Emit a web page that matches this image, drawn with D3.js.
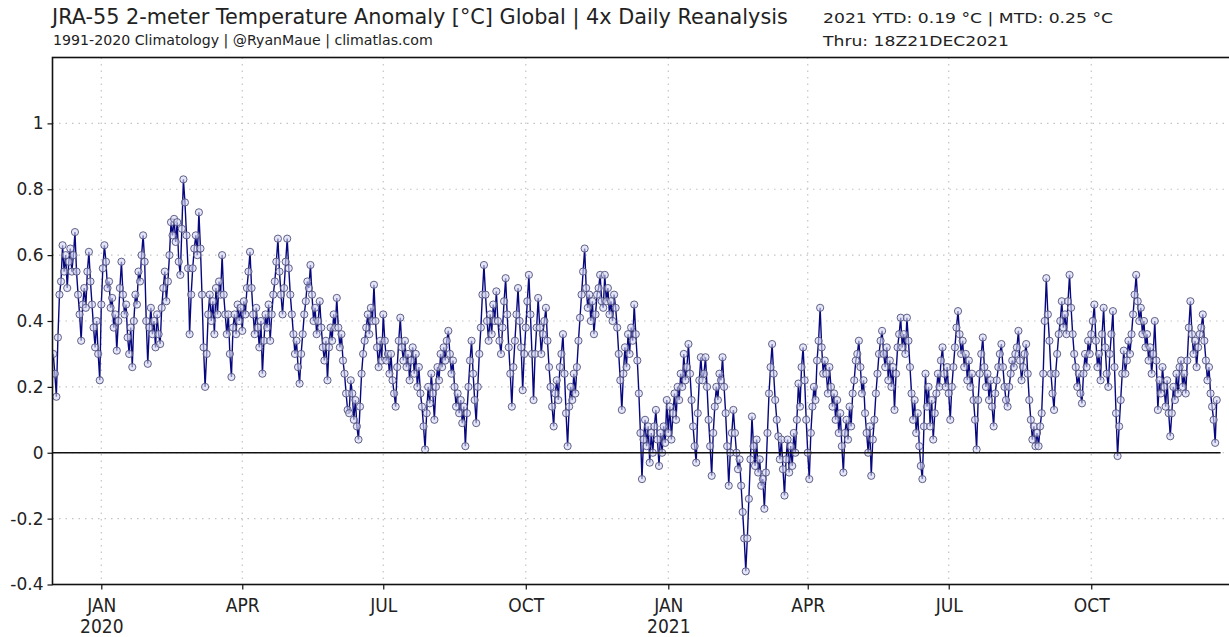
<!DOCTYPE html>
<html><head><meta charset="utf-8">
<script src="https://cdn.jsdelivr.net/npm/d3@7"></script>
<style>
body{margin:0;background:#fff}
svg{display:block}
text{font-family:"DejaVu Sans","Liberation Sans",sans-serif;fill:#222}
</style>
</head><body>
<svg id="chart" width="1229" height="637"></svg>
<script>
// ---- texts ----
const titleMain = "JRA-55 2-meter Temperature Anomaly [°C] Global | 4x Daily Reanalysis";
const titleSub = "1991-2020 Climatology | @RyanMaue | climatlas.com";
const statLine = "2021 YTD: 0.19 °C | MTD: 0.25 °C";
const thruLine = "Thru: 18Z21DEC2021";

// ---- data: daily global 2-m temperature anomaly (°C) ----
const seriesStart = "2019-12-01";
const anom2019 = [ // Dec 2019
  0.30,0.24,0.17,0.35,0.48,0.52,0.63,0.55,0.60,0.50,0.58,0.62,0.55,0.60,0.67,0.55,0.48,0.42,0.34,0.45,0.50,0.44,0.55,0.61,0.52,0.45,0.38,0.32,0.40,0.30,0.22
];
const anom2020 = [
  // Jan
  0.45,0.56,0.63,0.58,0.50,0.52,0.44,0.47,0.38,0.42,0.31,0.40,0.50,0.58,0.48,0.42,0.45,0.35,0.30,0.38,0.26,0.40,0.48,0.45,0.55,0.52,0.60,0.66,0.58,0.40,0.27,
  // Feb
  0.38,0.44,0.36,0.40,0.32,0.42,0.36,0.33,0.44,0.50,0.55,0.46,0.52,0.60,0.70,0.66,0.71,0.64,0.70,0.58,0.54,0.68,0.83,0.76,0.66,0.56,0.36,0.48,0.56,
  // Mar
  0.62,0.66,0.60,0.73,0.62,0.48,0.32,0.20,0.30,0.42,0.48,0.40,0.46,0.36,0.50,0.42,0.52,0.48,0.60,0.48,0.42,0.36,0.42,0.30,0.23,0.38,0.42,0.36,0.45,0.40,0.44,
  // Apr
  0.37,0.46,0.42,0.50,0.55,0.61,0.50,0.42,0.36,0.44,0.38,0.32,0.40,0.24,0.34,0.42,0.38,0.45,0.34,0.42,0.48,0.52,0.58,0.65,0.55,0.48,0.42,0.50,0.58,0.65,
  // May
  0.56,0.48,0.42,0.36,0.30,0.34,0.26,0.21,0.30,0.36,0.42,0.46,0.52,0.50,0.57,0.48,0.40,0.44,0.36,0.40,0.46,0.38,0.32,0.28,0.34,0.22,0.32,0.38,0.34,0.42,0.38,
  // Jun
  0.47,0.38,0.32,0.36,0.28,0.24,0.18,0.13,0.12,0.22,0.18,0.10,0.16,0.08,0.04,0.14,0.24,0.30,0.34,0.38,0.42,0.36,0.44,0.40,0.51,0.40,0.32,0.26,0.34,0.28,
  // Jul
  0.42,0.34,0.28,0.30,0.24,0.30,0.22,0.18,0.14,0.26,0.34,0.41,0.32,0.28,0.34,0.26,0.30,0.22,0.28,0.32,0.24,0.30,0.20,0.26,0.18,0.14,0.08,0.01,0.12,0.20,0.15,
  // Aug
  0.24,0.18,0.10,0.20,0.26,0.22,0.30,0.26,0.32,0.28,0.34,0.37,0.30,0.24,0.28,0.20,0.14,0.18,0.12,0.16,0.09,0.14,0.02,0.12,0.20,0.28,0.34,0.24,0.16,0.09,0.20,
  // Sep
  0.30,0.38,0.48,0.57,0.48,0.40,0.34,0.42,0.36,0.45,0.40,0.49,0.40,0.34,0.30,0.38,0.46,0.53,0.42,0.32,0.24,0.14,0.26,0.34,0.42,0.50,0.40,0.32,0.19,0.30,
  // Oct
  0.38,0.46,0.54,0.42,0.30,0.16,0.30,0.38,0.47,0.38,0.30,0.36,0.40,0.44,0.34,0.26,0.20,0.14,0.08,0.18,0.22,0.16,0.26,0.30,0.36,0.24,0.12,0.02,0.14,0.20,0.16,
  // Nov
  0.24,0.18,0.26,0.34,0.41,0.48,0.55,0.62,0.50,0.44,0.48,0.40,0.46,0.36,0.42,0.48,0.50,0.54,0.46,0.44,0.54,0.46,0.50,0.42,0.46,0.40,0.48,0.44,0.38,0.30,
  // Dec
  0.22,0.13,0.24,0.32,0.26,0.36,0.30,0.38,0.34,0.45,0.36,0.28,0.18,0.06,-0.08,0.04,0.10,0.02,0.08,-0.03,0.06,0.00,0.08,0.13,0.04,-0.04,0.06,0.00,0.08,0.03,0.16
];
const anom2021 = [
  // Jan
  0.06,0.14,0.04,0.12,0.18,0.10,0.20,0.16,0.24,0.20,0.30,0.22,0.26,0.33,0.24,0.16,0.08,0.02,-0.03,0.12,0.22,0.29,0.22,0.24,0.29,0.20,0.10,0.02,-0.07,0.06,0.14,
  // Feb
  0.20,0.16,0.24,0.22,0.29,0.20,0.12,0.02,-0.10,0.00,0.06,0.13,0.06,0.00,-0.05,-0.02,-0.10,-0.18,-0.26,-0.36,-0.26,-0.14,-0.02,0.11,0.02,-0.04,0.04,-0.06,
  // Mar
  -0.02,-0.10,-0.08,-0.17,-0.06,0.06,0.18,0.26,0.33,0.24,0.16,0.10,0.05,-0.02,0.04,-0.05,-0.13,-0.02,0.04,-0.06,0.02,-0.04,0.06,0.00,0.10,0.21,0.14,0.26,0.32,0.22,0.10,
  // Apr
  0.00,-0.08,0.06,0.14,0.20,0.16,0.28,0.34,0.44,0.32,0.24,0.28,0.24,0.18,0.26,0.20,0.14,0.18,0.10,0.16,0.06,0.12,0.02,-0.06,0.06,0.10,0.04,0.14,0.08,0.18,
  // May
  0.22,0.28,0.30,0.34,0.26,0.18,0.22,0.12,0.06,0.00,0.08,-0.07,0.04,0.10,0.18,0.24,0.30,0.34,0.37,0.30,0.26,0.32,0.22,0.28,0.20,0.26,0.13,0.24,0.32,0.36,0.41,
  // Jun
  0.32,0.36,0.30,0.41,0.34,0.26,0.18,0.10,0.16,0.06,0.12,0.02,-0.04,-0.08,0.08,0.24,0.14,0.20,0.08,0.16,0.04,0.12,0.18,0.24,0.20,0.28,0.32,0.24,0.20,0.26,
  // Jul
  0.18,0.10,0.20,0.26,0.32,0.38,0.43,0.36,0.30,0.34,0.26,0.30,0.22,0.28,0.20,0.24,0.16,0.10,0.01,0.16,0.24,0.30,0.35,0.26,0.20,0.24,0.16,0.22,0.14,0.08,0.18,
  // Aug
  0.22,0.26,0.30,0.33,0.26,0.20,0.16,0.14,0.20,0.24,0.28,0.26,0.30,0.32,0.37,0.28,0.22,0.26,0.30,0.33,0.24,0.16,0.10,0.04,0.08,0.02,0.06,0.02,0.08,0.12,0.24,
  // Sep
  0.40,0.53,0.42,0.34,0.24,0.18,0.13,0.24,0.30,0.36,0.40,0.46,0.38,0.42,0.36,0.46,0.54,0.44,0.36,0.30,0.26,0.20,0.24,0.18,0.15,0.24,0.30,0.26,0.34,0.30,
  // Oct
  0.36,0.40,0.45,0.34,0.26,0.30,0.22,0.36,0.44,0.32,0.24,0.20,0.30,0.36,0.43,0.26,0.12,-0.01,0.08,0.16,0.24,0.31,0.24,0.28,0.34,0.30,0.36,0.42,0.48,0.54,0.46,
  // Nov
  0.40,0.44,0.36,0.40,0.32,0.36,0.28,0.32,0.24,0.30,0.40,0.28,0.13,0.22,0.18,0.26,0.20,0.14,0.22,0.12,0.05,0.12,0.20,0.16,0.24,0.18,0.26,0.28,0.20,0.24,
  // Dec (thru 21st)
  0.18,0.28,0.38,0.46,0.36,0.30,0.34,0.26,0.32,0.36,0.38,0.42,0.34,0.28,0.22,0.26,0.18,0.14,0.10,0.03,0.16
];

// ---- axes ----
const yTicks = [-0.4, -0.2, 0, 0.2, 0.4, 0.6, 0.8, 1];
const yTickLabels = ["-0.4", "-0.2", "0", "0.2", "0.4", "0.6", "0.8", "1"];
const yDomain = [-0.4, 1.2];
const xTickDates = ["2020-01-01","2020-04-01","2020-07-01","2020-10-01","2021-01-01","2021-04-01","2021-07-01","2021-10-01"];
const xTickLabels = [["JAN","2020"],["APR"],["JUL"],["OCT"],["JAN","2021"],["APR"],["JUL"],["OCT"]];
const xDomain = ["2019-11-30T12:00:00Z", "2021-12-31T12:00:00Z"];
const zeroLineEnd = "2021-12-23T12:00:00Z";

// ---- build ----
const svg = d3.select("#chart");
const plot = {left: 52.5, right: 1233, top: 57.5, bottom: 584.5};
const x = d3.scaleUtc().domain(xDomain.map(s => new Date(s))).range([plot.left, plot.right]);
const y = d3.scaleLinear().domain(yDomain).range([plot.bottom, plot.top]);

const allVals = anom2019.concat(anom2020, anom2021);
const t0 = new Date(seriesStart + "T00:00:00Z").getTime();
const data = allVals.map((v, i) => ({date: new Date(t0 + i * 86400000), v}));

svg.append("rect").attr("width", 1229).attr("height", 637).attr("fill", "#fff");

svg.append("clipPath").attr("id", "clip").append("rect")
  .attr("x", plot.left).attr("y", plot.top)
  .attr("width", plot.right - plot.left).attr("height", plot.bottom - plot.top);

// grid
const grid = svg.append("g").attr("stroke", "#c4c4c4").attr("stroke-width", 1.2).attr("stroke-dasharray", "1.5,5");
grid.selectAll("line.gy").data(yTicks).join("line")
  .attr("x1", plot.left).attr("x2", plot.right)
  .attr("y1", d => y(d)).attr("y2", d => y(d));
grid.selectAll("line.gx").data(xTickDates).join("line")
  .attr("y1", plot.top).attr("y2", plot.bottom)
  .attr("x1", d => x(new Date(d + "T00:00:00Z"))).attr("x2", d => x(new Date(d + "T00:00:00Z")));

// series
const g = svg.append("g").attr("clip-path", "url(#clip)");
g.append("path").datum(data)
  .attr("fill", "none").attr("stroke", "#07077e").attr("stroke-width", 1.4)
  .attr("d", d3.line().x(d => x(d.date)).y(d => y(d.v)));
g.selectAll("circle").data(data).join("circle")
  .attr("cx", d => x(d.date)).attr("cy", d => y(d.v)).attr("r", 3.6)
  .attr("fill", "#d4d5f2").attr("fill-opacity", 0.6)
  .attr("stroke", "#50507a").attr("stroke-width", 0.9);

// zero line
svg.append("line").attr("x1", plot.left).attr("x2", x(new Date(zeroLineEnd)))
  .attr("y1", y(0)).attr("y2", y(0)).attr("stroke", "#111").attr("stroke-width", 1.6);

// frame
svg.append("rect").attr("x", plot.left).attr("y", plot.top)
  .attr("width", plot.right - plot.left).attr("height", plot.bottom - plot.top)
  .attr("fill", "none").attr("stroke", "#111").attr("stroke-width", 1.6);

// y axis
const yAxis = svg.append("g").attr("transform", `translate(${plot.left},0)`)
  .call(d3.axisLeft(y).tickValues(yTicks).tickSize(5).tickPadding(4)
    .tickFormat((d, i) => yTickLabels[i]));
yAxis.select(".domain").remove();
yAxis.selectAll("line").attr("stroke", "#111").attr("stroke-width", 1.2);
yAxis.selectAll("text").attr("font-size", 17).attr("fill", "#222")
  .attr("font-family", "DejaVu Sans, sans-serif");

// x axis
const xAxis = svg.append("g").attr("transform", `translate(0,${plot.bottom})`)
  .call(d3.axisBottom(x).tickValues(xTickDates.map(d => new Date(d + "T00:00:00Z"))).tickSize(5).tickFormat(""));
xAxis.select(".domain").remove();
xAxis.selectAll("line").attr("stroke", "#111").attr("stroke-width", 1.2);
xAxis.selectAll(".tick").each(function(d, i) {
  const tick = d3.select(this);
  xTickLabels[i].forEach((s, k) => {
    tick.append("text")
      .attr("text-anchor", "middle").attr("fill", "#222")
      .attr("font-size", 19)
      .attr("font-family", "DejaVu Sans Condensed, DejaVu Sans, sans-serif")
      .attr("font-stretch", "condensed")
      .attr("x", 0).attr("y", 27.5 + k * 21).text(s);
  });
});

// titles
function fitText(sel, width) {
  const w = sel.node().getComputedTextLength();
  const fs = parseFloat(sel.attr("font-size"));
  sel.attr("font-size", (fs * width / w).toFixed(2));
}
const t1 = svg.append("text").attr("x", 52).attr("y", 24).attr("font-size", 18).text(titleMain);
fitText(t1, 736);
const t2 = svg.append("text").attr("x", 53).attr("y", 45).attr("font-size", 13).text(titleSub);
fitText(t2, 380);
svg.append("text").attr("x", 823).attr("y", 23).attr("font-size", 14.5)
  .attr("textLength", 290).attr("lengthAdjust", "spacingAndGlyphs").text(statLine);
svg.append("text").attr("x", 823).attr("y", 46).attr("font-size", 14.5)
  .attr("textLength", 186).attr("lengthAdjust", "spacingAndGlyphs").text(thruLine);
</script>
</body></html>
